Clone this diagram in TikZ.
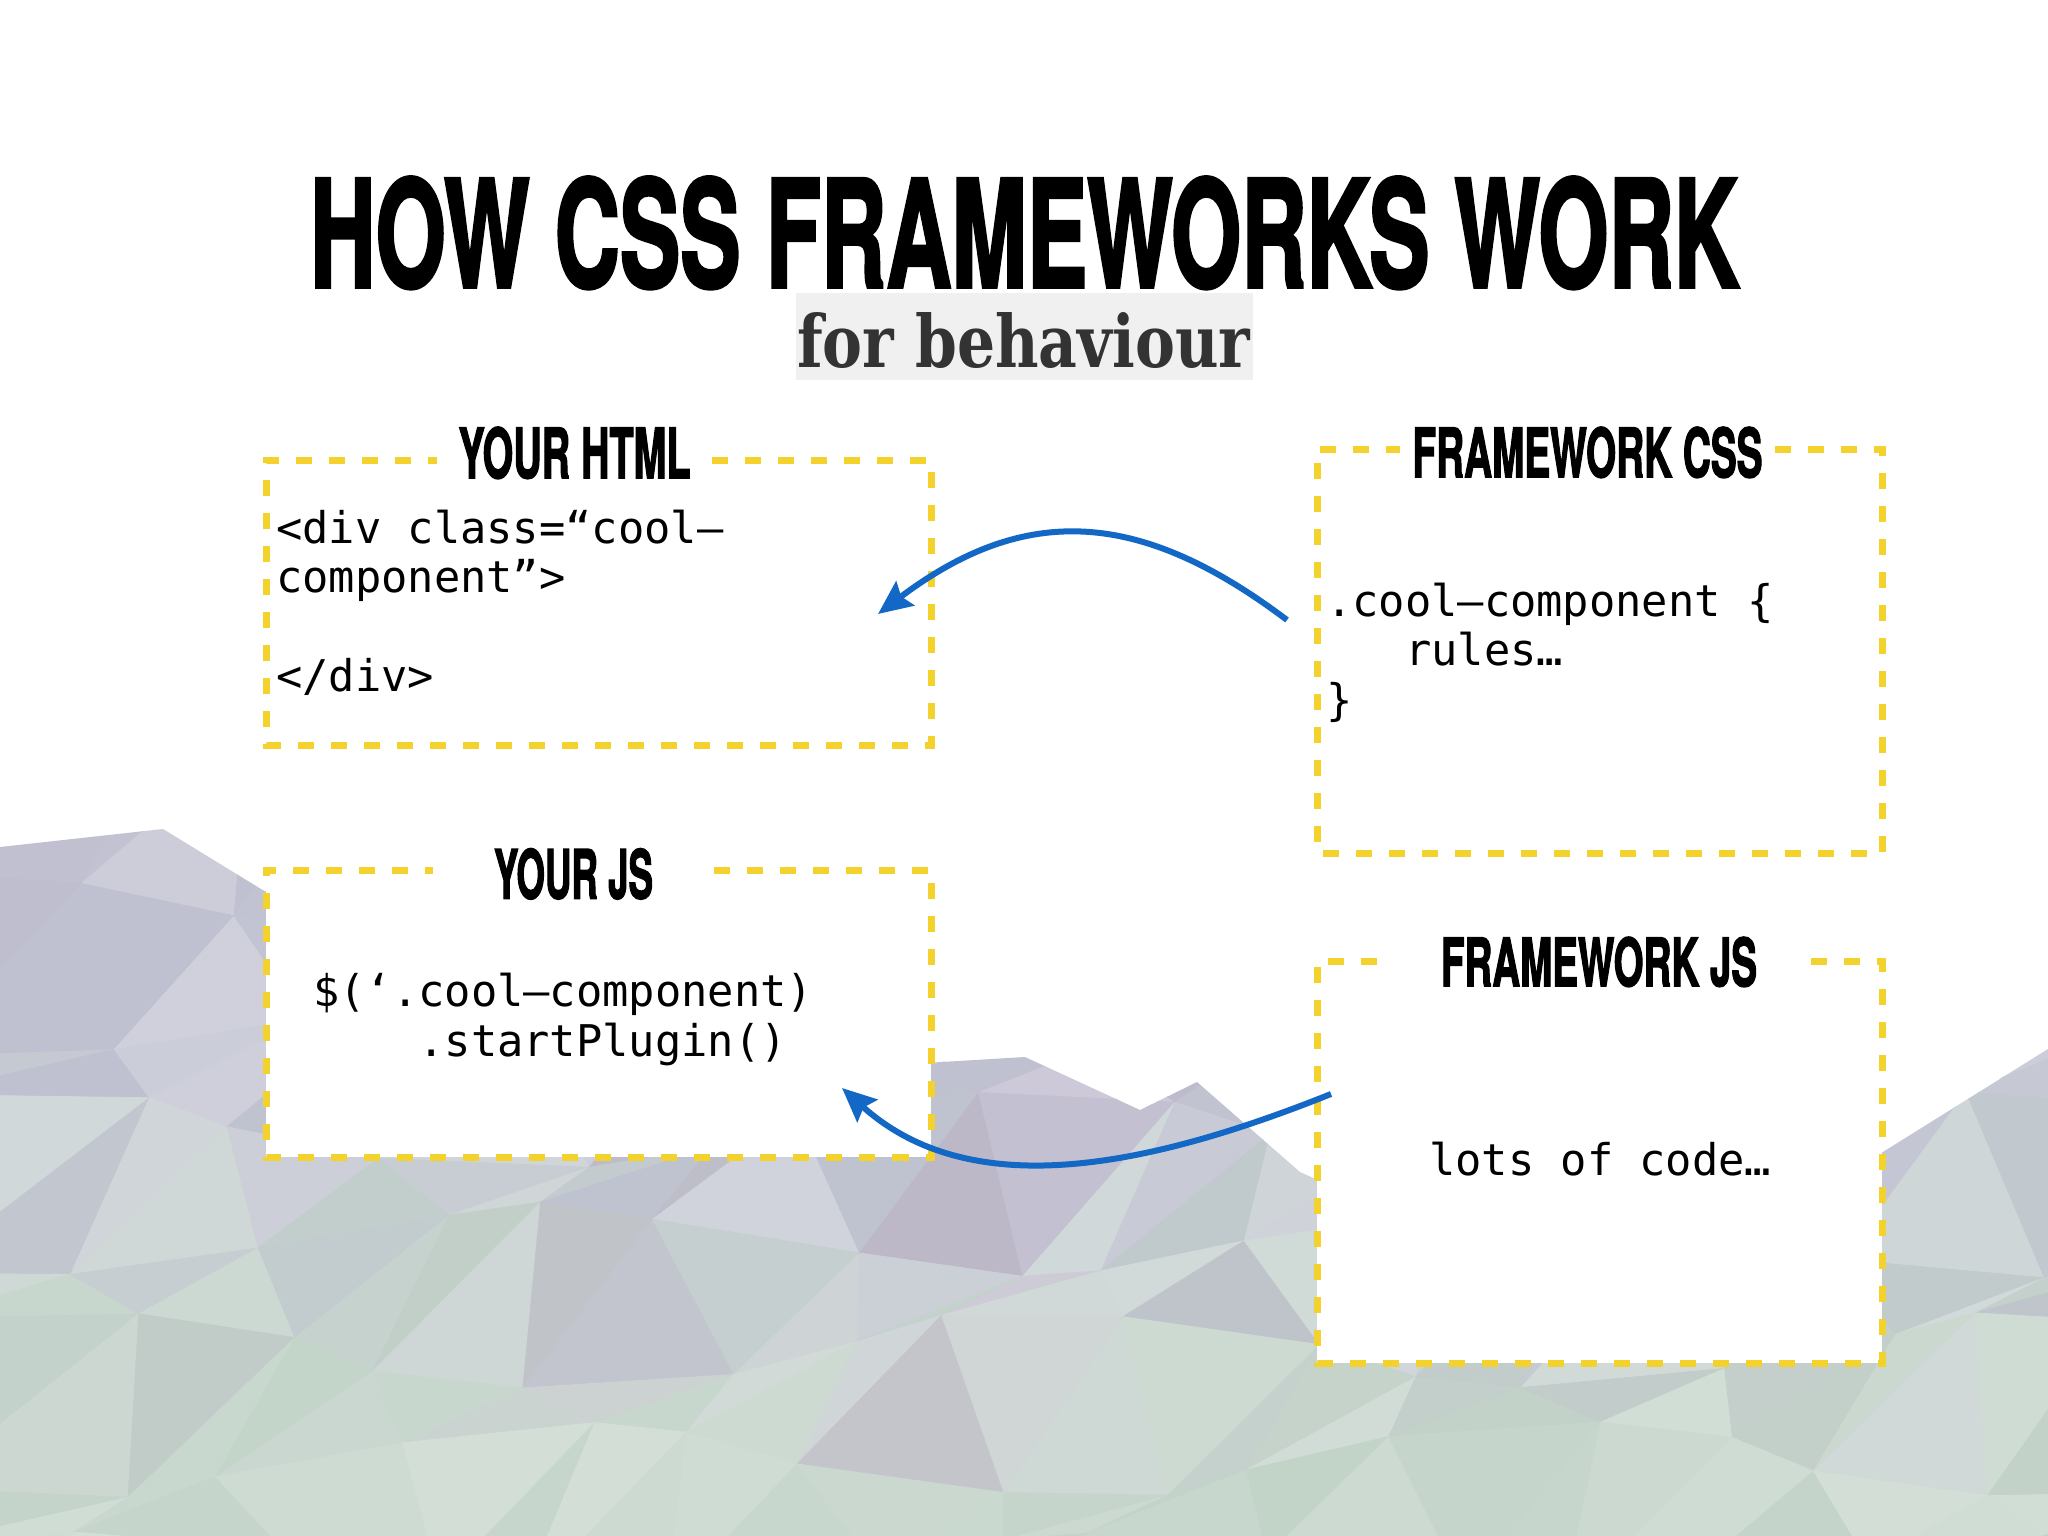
\documentclass[tikz,border=0pt]{standalone}
\usepackage{fontspec}
\usepackage{graphicx}
\usetikzlibrary{arrows.meta}
\newfontfamily\headfont{TeX Gyre Heros}[FakeBold=2.5]
\newfontfamily\slabfont{DejaVu Serif}
\newfontfamily\codefont{DejaVu Sans Mono}
\definecolor{ybor}{RGB}{244,210,46}
\definecolor{arrowblue}{RGB}{18,104,196}
\definecolor{subgray}{RGB}{240,240,240}
\definecolor{subtext}{RGB}{51,51,51}
\definecolor{lpLav}{RGB}{188,189,206}
\definecolor{lpGrn}{RGB}{192,211,197}
\definecolor{lpMau}{RGB}{184,170,194}
\begin{document}
\frenchspacing
\begin{tikzpicture}[x=1pt,y=-1pt,
  yborder/.style={draw=ybor, line width=7pt, dash pattern=on 16pt off 17pt},
  panel/.style={fill=white, draw=none, inner sep=0pt, anchor=north west},
  ptitle/.style={anchor=base, inner ysep=0pt, font=\headfont\bfseries},
  code/.style={anchor=base west, inner sep=0pt, font=\codefont\fontsize{43.7}{49.5}\selectfont},
  flow/.style={draw=arrowblue, line width=6pt, -{Stealth[length=34pt,width=30pt,inset=5pt]}}]
\useasboundingbox (0,0) rectangle (2048,1536);
\fill[white] (0,0) rectangle (2048,1536);
% low-poly background
\foreach \i in {0,...,15}{
  \foreach \j in {0,...,8}{
    \pgfmathsetmacro\xx{(\i==0)*(-80)+(\i>0)*(\i*145-30+45*sin(\i*97+\j*131))}
    \pgfmathsetmacro\yy{(\j==0)*740+(\j>0)*(800+\j*110+38*cos(\i*53+\j*173))}
    \coordinate (g-\i-\j) at (\xx,\yy);
  }
}
\begin{scope}
\clip (0,847) -- (163,829) -- (261,889) -- (290,905) -- (925,1063) -- (1025,1057) -- (1140,1110) -- (1197,1082) -- (1300,1172) -- (1340,1190) -- (1870,1160) -- (2048,1049) -- (2048,1536) -- (0,1536) -- cycle;
\foreach \i in {0,...,14}{
  \foreach \j in {0,...,7}{
    \pgfmathtruncatemacro\ii{\i+1}
    \pgfmathtruncatemacro\jj{\j+1}
    \pgfmathsetmacro\fm{max(0.15,1-abs(\i*145-820)/550)}
    \pgfmathsetmacro\gx{(\i*145<500)*15}
    \pgfmathtruncatemacro\gA{max(0,min(90,(\j-2.3)*30+\gx+22*sin(\i*71+\j*43)))}
    \pgfmathtruncatemacro\gB{max(0,min(90,(\j-2)*30+\gx+22*sin(\i*67+\j*91+40)))}
    \pgfmathtruncatemacro\mA{\fm*max(0,85*sin(\i*131+\j*59+20)-15)*(\j<6)}
    \pgfmathtruncatemacro\mB{\fm*max(0,85*sin(\i*113+\j*149+70)-15)*(\j<6)}
    \pgfmathtruncatemacro\wA{84+13*sin(\i*37+\j*83)}
    \pgfmathtruncatemacro\wB{84+13*sin(\i*173+\j*29+50)}
    \colorlet{cA1}{lpGrn!\gA!lpLav}
    \colorlet{cA2}{lpMau!\mA!cA1}
    \colorlet{cA3}{cA2!\wA!white}
    \colorlet{cB1}{lpGrn!\gB!lpLav}
    \colorlet{cB2}{lpMau!\mB!cB1}
    \colorlet{cB3}{cB2!\wB!white}
    \filldraw[fill=cA3, draw=cA3, line width=0.8pt, line join=round] (g-\i-\j) -- (g-\ii-\j) -- (g-\i-\jj) -- cycle;
    \filldraw[fill=cB3, draw=cB3, line width=0.8pt, line join=round] (g-\ii-\j) -- (g-\ii-\jj) -- (g-\i-\jj) -- cycle;
  }
}
\end{scope}
% heading
\node[anchor=base west, inner sep=0pt, font=\headfont\bfseries] (title) at (310,287) {\resizebox{1428pt}{110pt}{HOW CSS FRAMEWORKS WORK}};
\node[fill=subgray, inner sep=0pt, minimum width=457pt, minimum height=87pt, anchor=north west] (subbox) at (796,293) {};
\node[anchor=base west, inner sep=0pt, text=subtext, font=\slabfont\bfseries] (sub) at (797,367) {\resizebox{453pt}{55pt}{for behaviour}};
% panels
\node[panel, minimum width=665pt, minimum height=285pt] (html) at (266,460) {};
\node[panel, minimum width=565pt, minimum height=404pt] (css) at (1317,449) {};
\node[panel, minimum width=665pt, minimum height=287pt] (js) at (266,870) {};
\node[panel, minimum width=565pt, minimum height=402pt] (fjs) at (1317,961) {};
% panel titles
\node[ptitle, inner xsep=21.5pt] (htmlT) at (574.5,478) {\resizebox{232pt}{51pt}{YOUR HTML}};
\node[ptitle, inner xsep=12pt] (cssT) at (1587.5,477) {\resizebox{350pt}{50pt}{FRAMEWORK CSS}};
\node[ptitle, inner xsep=60.5pt] (jsT) at (573.5,898.5) {\resizebox{159pt}{50pt}{YOUR JS}};
\node[ptitle, inner xsep=54pt] (fjsT) at (1599,986) {\resizebox{316pt}{49pt}{FRAMEWORK JS}};
% dashed borders
\draw[yborder] (htmlT.east |- html.north) -- (html.north east) -- (html.south east) -- (html.south west) -- (html.north west) -- (htmlT.west |- html.north);
\draw[yborder] (cssT.east |- css.north) -- (css.north east) -- (css.south east) -- (css.south west) -- (css.north west) -- (cssT.west |- css.north);
\draw[yborder] (jsT.east |- js.north) -- (js.north east) -- (js.south east) -- (js.south west) -- (js.north west) -- (jsT.west |- js.north);
\draw[yborder] (fjsT.east |- fjs.north) -- (fjs.north east) -- (fjs.south east) -- (fjs.south west) -- (fjs.north west) -- (fjsT.west |- fjs.north);
% code
\node[code] (htmlCode) at (276,543) {\begin{tabular}[t]{@{}l@{}}<div class=“cool–\\component”>\\\mbox{}\\</div>\end{tabular}};
\node[code] (cssCode) at (1326,616) {\begin{tabular}[t]{@{}l@{}}.cool–component \{\\\phantom{xxx}rules…\\\}\end{tabular}};
\node[code] (jsCode) at (313,1006.5) {\begin{tabular}[t]{@{}l@{}}\$(‘.cool–component)\\\phantom{xxxx}.startPlugin()\end{tabular}};
\node[code] (fjsCode) at (1429,1175.5) {lots of code…};
% arrows
\coordinate (cssOut) at (1287,620);
\coordinate (htmlIn) at (878,614);
\coordinate (fjsOut) at (1331,1094);
\coordinate (jsIn) at (842,1088);
\draw[flow] (cssOut) .. controls (1140,509) and (1025,503) .. (htmlIn);
\draw[flow] (fjsOut) .. controls (1151,1166) and (972,1205) .. (jsIn);
\end{tikzpicture}
\end{document}
